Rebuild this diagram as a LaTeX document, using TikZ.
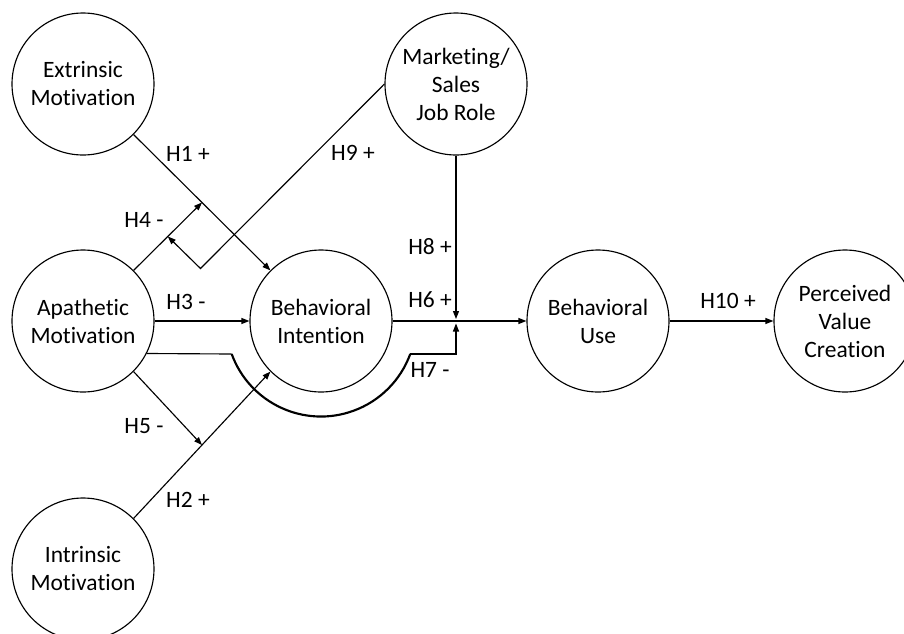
\documentclass[tikz,border=0pt]{standalone}
\usepackage{fontspec}
\setmainfont{Carlito}[Ligatures=NoCommon]
\usetikzlibrary{arrows.meta, calc}

\begin{document}
\begin{tikzpicture}[x=0.75pt, y=0.75pt,
    construct/.style={draw, circle, line width=0.85pt, minimum size=106.5pt, inner sep=0pt, align=center, font=\fontsize{17.6}{21}\selectfont},
    hyp/.style={font=\fontsize{17.6}{21}\selectfont},
    arr/.style={-{Triangle[length=6pt,width=4.5pt]}, line width=0.85pt}]
    \useasboundingbox (0,0) rectangle (904,-633);

    % Constructs
    \node[construct] (ext) at (83,-84) {Extrinsic\\Motivation};
    \node[construct] (mkt) at (456,-84) {Marketing/\\Sales\\Job Role};
    \node[construct] (apa) at (83,-321) {Apathetic\\Motivation};
    \node[construct] (bi) at (321,-321) {Behavioral\\Intention};
    \node[construct] (use) at (598,-321) {Behavioral\\Use};
    \node[construct] (pvc) at (845,-321) {Perceived\\Value\\Creation};
    \node[construct] (int) at (83,-569) {Intrinsic\\Motivation};

    % Helper points
    \coordinate (c9) at (200.5,-268.5);
    \coordinate (jtop) at (456,-319);
    \coordinate (jbot) at (456,-323.5);
    \coordinate (h7a) at (231.7,-354);
    \coordinate (h7b) at (410.3,-354);
    \coordinate (h7c) at (456,-354);

    % Direct effects
    \draw[arr] (ext.-45) -- coordinate[pos=0.5] (h1mid) (bi.135);
    \draw[arr] (int.45) -- coordinate[pos=0.5] (h2mid) (bi.-135);
    \draw[arr] (apa.east) -- (bi.west);
    \draw[arr] (bi.east) -- (use.west);
    \draw[arr] (use.east) -- (pvc.west);

    % Moderating effects
    \draw[arr] (apa.45) -- coordinate[pos=0.5] (h4mid) (h1mid);
    \draw[arr] (apa.-45) -- (h2mid);
    \draw[arr] (mkt.west) -- (c9) -- (h4mid);
    \draw[arr] (mkt.south) -- (jtop);
    \draw[line width=0.85pt] (apa.-27.7) -- (h7a);
    \draw[line width=1.6pt] (h7a) arc[start angle=200, end angle=340, radius=95];
    \draw[arr] (h7b) -- (h7c) -- (jbot);

    % Hypothesis labels
    \node[hyp] (lab1) at (188,-154) {H1 +};
    \node[hyp] (lab9) at (353,-153) {H9 +};
    \node[hyp] (lab4) at (144,-220) {H4 -};
    \node[hyp] (lab8) at (430,-247) {H8 +};
    \node[hyp] (lab3) at (186,-302) {H3 -};
    \node[hyp] (lab6) at (430,-300) {H6 +};
    \node[hyp] (lab7) at (430,-370) {H7 -};
    \node[hyp] (lab5) at (144,-426) {H5 -};
    \node[hyp] (lab2) at (188,-500) {H2 +};
    \node[hyp] (lab10) at (728,-301) {H10 +};
\end{tikzpicture}
\end{document}
